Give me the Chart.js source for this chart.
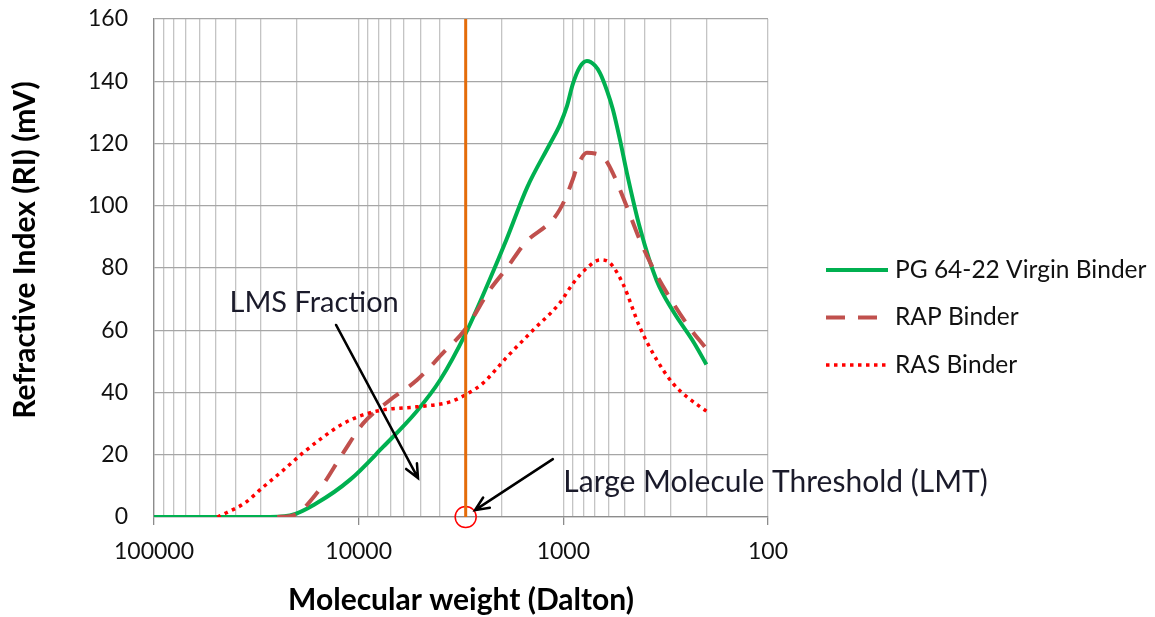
<!DOCTYPE html>
<html>
<head>
<meta charset="utf-8">
<script src="https://cdn.jsdelivr.net/npm/chart.js@4.4.0/dist/chart.umd.min.js"></script>
<style>html,body{margin:0;background:#fff}canvas{display:block}</style>
</head>
<body>
<canvas id="c" width="1155" height="617"></canvas>
<script>
// Data (molecular weight in Dalton, RI in mV)
const pgMW  = [100000, 50000, 30000, 21700, 16000, 11000, 7600, 5200, 4000, 3000, 2300, 1900, 1500, 1160, 1040, 960, 900, 830, 767, 700, 662, 612, 573, 528, 489, 423, 350, 290, 230, 200];
const pgRI  = [0, 0, 0, 0.5, 4.5, 12, 22.5, 34, 44, 59, 76, 89, 106, 120, 126, 132, 139, 144.6, 146.5, 145, 142.6, 137, 131, 121, 110.5, 93, 76, 66, 56, 49];
const rapMW = [25000, 20900, 16000, 11900, 9530, 7030, 5190, 3870, 3000, 2285, 1886, 1540, 1099, 982, 908, 849, 767, 700, 626, 573, 489, 423, 365, 312, 249, 200];
const rapRI = [0, 0.5, 7.7, 20.6, 30, 37.6, 44, 52.7, 60.5, 73, 80, 88, 96.4, 102, 107.7, 113, 117, 116.8, 115, 110.5, 99.6, 89, 80, 72, 62, 54];
const rasMW = [49000, 44500, 36000, 29300, 23400, 18700, 14900, 11900, 9530, 7610, 5190, 3580, 2960, 2470, 1886, 1408, 1040, 898, 767, 662, 592, 512, 423, 349, 292, 249, 200];
const rasRI = [0, 1.3, 4.5, 9.6, 15, 20.6, 25.7, 30, 32.8, 34.4, 35.4, 37, 39.5, 43, 51.4, 60, 68.8, 75, 80, 82.6, 81.6, 75, 61, 50.4, 43, 38.6, 34];
const lmtMW = 3000;
const riTicks = [0, 20, 40, 60, 80, 100, 120, 140, 160];
const mwRange = [100, 100000];

const pts = (xs, ys) => xs.map((x, i) => ({x, y: ys[i]}));
const isMajor = v => Math.abs(Math.log10(v) - Math.round(Math.log10(v))) < 1e-9;
const FONT = 'Lato, "Open Sans", sans-serif';

function arrow(ctx, x1, y1, x2, y2){
  const a = Math.atan2(y2 - y1, x2 - x1), h = 15, s = 0.42;
  ctx.beginPath();
  ctx.moveTo(x1, y1); ctx.lineTo(x2, y2);
  ctx.moveTo(x2 - h*Math.cos(a - s), y2 - h*Math.sin(a - s));
  ctx.lineTo(x2, y2);
  ctx.lineTo(x2 - h*Math.cos(a + s), y2 - h*Math.sin(a + s));
  ctx.stroke();
}

const extras = {
  id: 'extras',
  afterDraw(chart){
    const {ctx, scales: {x, y}, chartArea: ca} = chart;
    ctx.save();
    // arrows + notes
    ctx.strokeStyle = '#000'; ctx.lineWidth = 2.5; ctx.lineCap = 'round'; ctx.lineJoin = 'miter';
    arrow(ctx, x.getPixelForValue(12900), y.getPixelForValue(61.7), x.getPixelForValue(5130), y.getPixelForValue(12.5));
    arrow(ctx, x.getPixelForValue(1125), y.getPixelForValue(18.6), x.getPixelForValue(2700), y.getPixelForValue(2.2));
    ctx.fillStyle = '#1a1a2a';
    ctx.textBaseline = 'middle';
    ctx.font = '29px ' + FONT; ctx.textAlign = 'center';
    ctx.fillText('LMS Fraction', x.getPixelForValue(16500), y.getPixelForValue(68.8));
    ctx.font = '30px ' + FONT; ctx.textAlign = 'left';
    ctx.fillText('Large Molecule Threshold (LMT)', x.getPixelForValue(1000), y.getPixelForValue(11.2));

    // axis titles
    ctx.fillStyle = '#000';
    ctx.font = 'bold 30px ' + FONT; ctx.textAlign = 'center';
    ctx.fillText('Molecular weight (Dalton)', (ca.left + ca.right)/2, 600);
    ctx.save();
    ctx.translate(25, 250); ctx.rotate(-Math.PI/2);
    ctx.fillText('Refractive Index (RI) (mV)', 0, 0);
    ctx.restore();

    // legend
    ctx.font = '24.5px ' + FONT; ctx.textAlign = 'left';
    chart.data.datasets.slice(0, 3).forEach((ds, i) => {
      const ly = 270 + i*47.5;
      ctx.strokeStyle = ds.borderColor; ctx.lineWidth = ds.borderWidth;
      ctx.setLineDash(ds.borderDash || []); ctx.lineCap = 'butt';
      ctx.beginPath(); ctx.moveTo(826, ly); ctx.lineTo(888, ly); ctx.stroke();
      ctx.setLineDash([]);
      ctx.fillStyle = '#111';
      ctx.fillText(ds.label, 895, ly);
    });
    ctx.restore();
  }
};

new Chart(document.getElementById('c'), {
  type: 'line',
  data: {
    datasets: [
      {label: 'PG 64-22 Virgin Binder', data: pts(pgMW, pgRI), borderColor: '#00B050', borderWidth: 4, order: 3},
      {label: 'RAP Binder', data: pts(rapMW, rapRI), borderColor: '#C0504D', borderWidth: 4, borderDash: [19, 13], order: 2},
      {label: 'RAS Binder', data: pts(rasMW, rasRI), borderColor: '#FF0000', borderWidth: 3.5, borderDash: [3.5, 4.5], order: 1},
      {label: 'LMT', data: [{x: lmtMW, y: riTicks[0]}, {x: lmtMW, y: riTicks[riTicks.length-1]}], borderColor: '#E46C0A', borderWidth: 3, order: 0},
      {label: 'LMT point', data: [{x: lmtMW, y: 0}], showLine: false, pointRadius: 10.5, pointHoverRadius: 10.5,
       pointBorderColor: '#FF0000', pointBorderWidth: 1.5, pointBackgroundColor: 'rgba(0,0,0,0)', clip: false, order: 0}
    ]
  },
  options: {
    responsive: false,
    animation: false,
    events: [],
    elements: {point: {radius: 0}, line: {cubicInterpolationMode: 'monotone', fill: false, borderCapStyle: 'butt'}},
    layout: {padding: {top: 0, right: 387, left: 0, bottom: 0}},
    plugins: {legend: {display: false}, tooltip: {enabled: false}},
    scales: {
      x: {
        type: 'logarithmic', reverse: true, min: mwRange[0], max: mwRange[1],
        afterBuildTicks(s){
          const t = [];
          for (let e = 2; e <= 5; e++) for (let m = 1; m <= 9; m++) { const v = m*Math.pow(10, e); if (v <= mwRange[1]) t.push({value: v}); }
          s.ticks = t;
        },
        afterFit(s){ s.height = 100; },
        ticks: {autoSkip: false, maxRotation: 0, padding: 13, color: '#111', font: {family: FONT, size: 23},
                callback: v => isMajor(v) ? String(v) : ''},
        grid: {color: '#c4c4c4', lineWidth: 1.3, tickLength: 8,
               tickColor: c => isMajor(c.tick.value) ? '#8c8c8c' : 'rgba(0,0,0,0)'},
        border: {color: '#8c8c8c', width: 1.3}
      },
      y: {
        min: riTicks[0], max: riTicks[riTicks.length-1],
        afterBuildTicks(s){ s.ticks = riTicks.map(v => ({value: v})); },
        afterFit(s){ s.width = 154; s.paddingTop = 19; s.paddingBottom = 0; },
        ticks: {padding: 26, color: '#111', font: {family: FONT, size: 23}},
        grid: {color: '#a6a6a6', lineWidth: 1.3, drawTicks: false},
        border: {color: '#8c8c8c', width: 1.3}
      }
    }
  },
  plugins: [extras]
});
</script>
</body>
</html>
